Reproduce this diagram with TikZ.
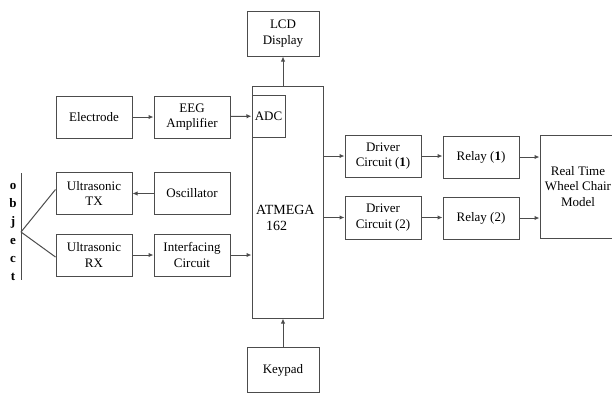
\documentclass[tikz,border=0pt]{standalone}
\usepackage{fontspec}
\setmainfont{Liberation Serif}
\usetikzlibrary{arrows.meta, positioning}

\begin{document}
\begin{tikzpicture}[x=1pt, y=-1pt,
  block/.style={draw=black!70, line width=1pt, minimum width=76pt, minimum height=42pt,
                align=center, inner sep=0pt, font=\fontsize{13}{15.5}\selectfont},
  link/.style={draw=black!70, line width=1pt, -{Latex[length=5pt,width=4.5pt]}},
  wire/.style={draw=black!70, line width=1pt}
]
  \useasboundingbox (0,0) rectangle (612,392);

  % controller and its display / keypad
  \node[block, minimum width=71pt, minimum height=232pt] (mcu) at (287.5,202) {};
  \node[block, minimum width=33pt] (adc) at (268.5,116) {ADC};
  \node[anchor=west, align=left, inner sep=0pt, font=\fontsize{14}{17}\selectfont]
    (mculabel) at (256,218) {ATMEGA\\[-1pt]\hspace{10pt}162};
  \node[block, minimum width=72pt, minimum height=45pt] (lcd) at (283,33.5) {LCD\\Display};
  \node[block, minimum width=72pt, minimum height=45pt] (keypad) at (283,370) {Keypad};

  % EEG chain
  \node[block] (electrode) at (94,117) {Electrode};
  \node[block] (eeg) at (192,117) {EEG\\Amplifier};

  % ultrasonic chain
  \node[block] (tx) at (94,193.5) {Ultrasonic\\TX};
  \node[block] (osc) at (192,193.5) {Oscillator};
  \node[block] (rx) at (94,255) {Ultrasonic\\RX};
  \node[block] (intf) at (192,255) {Interfacing\\Circuit};

  % object
  \node[align=center, inner sep=0pt, font=\bfseries\fontsize{13}{18.2}\selectfont]
    (objlabel) at (13,232) {o\\b\\j\\e\\c\\t};
  \coordinate (objtop) at (21,173);
  \coordinate (objbot) at (21,280);
  \coordinate (fan) at (21,232);

  % output side
  \node[block] (drv1) at (383,156) {Driver\\Circuit (\textbf{1})};
  \node[block] (relay1) at (481,157) {Relay (\textbf{1})};
  \node[block, minimum height=43pt] (drv2) at (383,217.5) {Driver\\Circuit (2)};
  \node[block] (relay2) at (481,218) {Relay (2)};
  \node[block, minimum height=103pt] (wheel) at (578,186.5) {Real Time\\Wheel Chair\\Model};

  % connections
  \draw[link] (electrode) -- (eeg);
  \draw[link] (eeg) -- (adc);
  \draw[link] (osc) -- (tx);
  \draw[link] (rx) -- (intf);
  \draw[link] (intf) -- (intf -| mcu.west);
  \draw[link] (mcu.north -| lcd) -- (lcd);
  \draw[link] (keypad) -- (keypad |- mcu.south);
  \draw[link] (mcu.east |- drv1) -- (drv1);
  \draw[link] (mcu.east |- drv2) -- (drv2);
  \draw[link] (drv1) -- (drv1 -| relay1.west);
  \draw[link] (drv2) -- (drv2 -| relay2.west);
  \draw[link] (relay1) -- (relay1 -| wheel.west);
  \draw[link] (relay2) -- (relay2 -| wheel.west);

  \draw[wire] (objtop) -- (objbot);
  \draw[wire] (fan) -- ([yshift=4pt]tx.west);
  \draw[wire] (fan) -- ([yshift=-2pt]rx.west);
\end{tikzpicture}
\end{document}
